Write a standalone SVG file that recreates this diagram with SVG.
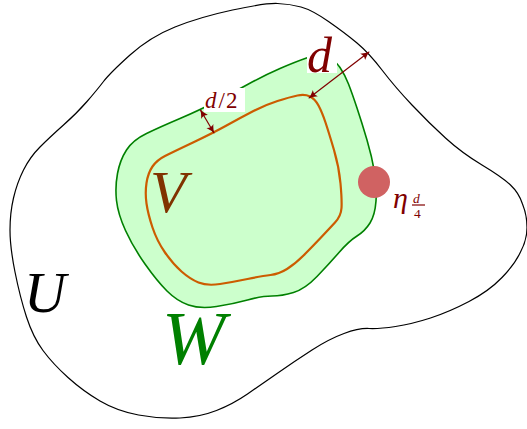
<svg xmlns="http://www.w3.org/2000/svg" width="527" height="429" viewBox="0 0 527 429">
<defs>
<style>
.lbl{font-family:"Liberation Serif","DejaVu Serif",serif;font-style:italic}
.up{font-style:normal}
.arr{fill:none;stroke:#800000;stroke-width:1.2}
.bg{fill:#ffffff;stroke:none}
</style>
<marker id="ah" viewBox="0 0 10 10" refX="9" refY="5" markerWidth="9" markerHeight="9" markerUnits="userSpaceOnUse" orient="auto-start-reverse">
<path d="M0,0.5 Q5,4 10,5 Q5,6 0,9.5 Q3,5 0,0.5 Z" fill="#800000"/>
</marker>
</defs>
<rect width="527" height="429" fill="#ffffff"/>
<g id="U">
<path fill="none" stroke="#000" stroke-width="1.2" d="M277.5,3.5 Q290,4 301,7 Q312,10 328.5,21.5 Q345,33 357,43 Q369,53 382,70 Q395,87 412,105 Q429,123 445.5,138 Q462,153 482,165 Q502,177 510.5,185 Q519,193 522.5,204 Q527,215 527,227.5 Q527,240 520.5,252 Q515,264 502,277.5 Q489,291 469,301.5 Q449,312 430.5,318 Q412,324 395.5,326.5 Q379,329 369,328.5 Q359,328 344,333.5 Q329,339 312,350 Q295,361 278.5,372.5 Q262,384 247.5,394 Q233,404 216.5,410.5 Q200,417 180,418 Q160,419 138.5,415 Q117,411 100,401 Q83,391 68,377.5 Q53,364 43,350.5 Q33,337 26.5,317 Q20,297 15,272 Q10,247 10,230 Q10,213 13.5,198 Q17,183 23.5,170 Q30,157 40,147 Q50,137 63.5,125 Q77,113 87,101.5 Q97,90 103.5,81.5 Q110,73 130,55 Q150,37 175,27 Q200,17 232.5,10 Q265,3 277.5,3.5 Z"/>
<text class="lbl" x="24" y="312" font-size="58" fill="#000">U</text>
</g>
<g id="W">
<path fill="#ccffcc" stroke="#008000" stroke-width="1.6" d="M280,68.5 Q295,62 306.5,58 Q318,54 326.5,57 Q335,60 340,67.5 Q345,75 348.5,84 Q352,93 357,108 Q362,123 367,140 Q372,157 374.5,172 Q377,187 376,201 Q375,215 370,223 Q365,231 357,236 Q349,241 339,252.5 Q329,264 317,276.5 Q305,289 293.5,292.5 Q282,296 272,296 Q262,296 247.5,300 Q233,304 216.5,306.5 Q200,309 188.5,305 Q177,301 167,291 Q157,281 145,264 Q133,247 125.5,230.5 Q118,214 116.5,200.5 Q115,187 117.5,173.5 Q120,160 126.5,150 Q133,140 146.5,133.5 Q160,127 180,118.5 Q200,110 216,101.5 Q232,93 248.5,84 Q265,75 280,68.5 Z"/>
<text class="lbl" x="162" y="364" font-size="76" fill="#008000">W</text>
</g>
<g id="V">
<path fill="none" stroke="#cc5c00" stroke-width="2.2" d="M277.5,101 Q290,97 297.5,95.5 Q305,94 310,96.5 Q315,99 318.5,105.5 Q322,112 325.5,122.5 Q329,133 334,150 Q339,167 340.5,183.5 Q342,200 341.5,208 Q341,216 335,222.5 Q329,229 320.5,238 Q312,247 303.5,255.5 Q295,264 287,269 Q279,274 270.5,275 Q262,276 247.5,279 Q233,282 220,284 Q207,286 198.5,282.5 Q190,279 181.5,271.5 Q173,264 165,252.5 Q157,241 152.5,227.5 Q148,214 146.5,203.5 Q145,193 146.5,183 Q148,173 152.5,166.5 Q157,160 165,156 Q173,152 193,142.5 Q213,133 226.5,125.5 Q240,118 252.5,111.5 Q265,105 277.5,101 Z"/>
<text class="lbl" x="150" y="212" font-size="60" fill="#803300">V</text>
</g>
<g id="eta">
<circle cx="374" cy="182" r="16" fill="#d06262"/>
<text class="lbl" x="393" y="208" font-size="30" fill="#800000">η</text>
<text class="lbl" x="413" y="202.5" font-size="13.5" fill="#800000">d</text>
<line x1="412" y1="205" x2="425" y2="205" stroke="#800000" stroke-width="1.2"/>
<text class="lbl up" x="414" y="218" font-size="13.5" fill="#800000">4</text>
</g>
<g id="connectors">
<line class="arr" x1="369" y1="52" x2="309" y2="98" marker-start="url(#ah)" marker-end="url(#ah)"/>
<line class="arr" x1="200.5" y1="110" x2="214" y2="133" marker-start="url(#ah)" marker-end="url(#ah)"/>
</g>
<g id="label-d">
<rect class="bg" x="307" y="37" width="30" height="36"/>
<text class="lbl" x="307" y="72" font-size="50" fill="#800000">d</text>
</g>
<g id="label-d2">
<rect class="bg" x="204" y="88" width="41" height="24"/>
<text class="lbl" x="205" y="108" font-size="23" fill="#800000">d<tspan class="up" dx="2">/</tspan><tspan class="up" dx="1">2</tspan></text>
</g>
</svg>
